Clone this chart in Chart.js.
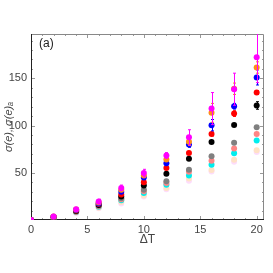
<!DOCTYPE html>
<html>
<head>
<meta charset="utf-8">
<script src="https://cdn.jsdelivr.net/npm/chart.js@4.4.1/dist/chart.umd.min.js"></script>
<style>
  html, body { margin: 0; padding: 0; background: #fff; }
</style>
</head>
<body>
<canvas id="myChart" width="273" height="273"></canvas>
<script>
// x values (Delta T)
const deltaT = [0, 2, 4, 6, 8, 10, 12, 14, 16, 18, 20];

// sigma(e) series
const magenta = [0, 3.8, 11.5, 19.5, 34, 49.7, 68.4, 87.6, 118, 138.5, 172.5];
const orange  = [0, 3.6, 11, 18.5, 32, 47, 64, 83, 113.5, 139, 161.5];
const blue    = [0, 3.5, 10.5, 17.5, 30, 45, 60, 80, 100.4, 120.5, 151];
const red     = [0, 3.3, 10, 17, 27, 40, 55, 71, 91, 112.7, 135];
const black   = [0, 3.1, 9.5, 16, 25, 36.5, 49, 65, 82.5, 100.7, 121.3];
// sigma(e)_a series (lighter)
const gray    = [0, 2.9, 9, 15, 23, 32, 41, 53.3, 67.4, 81.7, 98.2];
const salmon  = [0, 2.8, 8.7, 14.5, 22, 30.5, 39.3, 51, 62.8, 75.8, 91];
const cyan    = [0, 2.7, 8.4, 14, 21, 28.5, 37.3, 47, 58.5, 70.8, 84.2];
const peach   = [0, 2.6, 8, 13, 19, 26, 34, 44, 53, 63.8, 74];
const pink    = [0, 2.5, 7.5, 12.5, 17.5, 25, 32.5, 41.5, 51.5, 61.8, 72];

// error bars (half widths)
const magentaErr = [0, 0.5, 1.5, 2.5, 3, 4, 3, 8, 17, 17, 27];
const orangeErr  = [0, 0, 0.5, 1, 1.5, 2, 2, 4, 10, 6, 6];
const blueErr    = [0, 0, 0.5, 1, 1.5, 2, 1.5, 3, 6, 3, 8];
const redErr     = [0, 0, 0.3, 0.5, 1, 1, 1, 1.5, 2, 3, 2];
const blackErr   = [0, 0, 0.3, 0.5, 1, 1, 1, 1, 1.5, 1.5, 4];

const xTicks = [0, 5, 10, 15, 20];
const yTicks = [50, 100, 150];
const yTitle = 'σ(e), σ(e)ₐ';

function pts(arr) { return deltaT.map((x, i) => ({ x: x, y: arr[i] })); }

function ds(label, arr, color, err) {
  return {
    label: label,
    data: pts(arr),
    errors: err || null,
    backgroundColor: color,
    borderColor: color,
    pointRadius: 3,
    pointBorderWidth: 0,
    showLine: false
  };
}

const errorBars = {
  id: 'errorBars',
  beforeDatasetDraw(chart, args) {
    const d = chart.data.datasets[args.index];
    if (!d.errors) return;
    const xs = chart.scales.x, ys = chart.scales.y, a = chart.chartArea;
    const c = chart.ctx;
    c.save();
    c.beginPath();
    c.rect(a.left, a.top, a.right - a.left, a.bottom - a.top);
    c.clip();
    c.strokeStyle = d.borderColor;
    c.lineWidth = 1;
    d.data.forEach((p, i) => {
      const e = d.errors[i];
      if (!e) return;
      const px = Math.round(xs.getPixelForValue(p.x)) + 0.5;
      const y1 = ys.getPixelForValue(p.y - e);
      const y2 = ys.getPixelForValue(p.y + e);
      c.beginPath();
      c.moveTo(px, y1); c.lineTo(px, y2);
      c.moveTo(px - 1.5, y1); c.lineTo(px + 1.5, y1);
      c.moveTo(px - 1.5, y2); c.lineTo(px + 1.5, y2);
      c.stroke();
    });
    c.restore();
  }
};

const frame = {
  id: 'frame',
  beforeDatasetsDraw(chart) {
    const c = chart.ctx, a = chart.chartArea;
    const xs = chart.scales.x, ys = chart.scales.y;
    c.save();
    c.strokeStyle = '#999';
    c.lineWidth = 1;
    c.beginPath();
    for (let v = 0; v <= 20; v += 1) {
      const px = Math.round(xs.getPixelForValue(v)) + 0.5;
      const len = v % 5 === 0 ? 4 : 2;
      c.moveTo(px, a.bottom); c.lineTo(px, a.bottom - len);
      c.moveTo(px, a.top); c.lineTo(px, a.top + len);
    }
    for (let v = 10; v <= 190; v += 10) {
      const py = Math.round(ys.getPixelForValue(v)) + 0.5;
      const len = v % 50 === 0 ? 4 : 2;
      c.moveTo(a.left, py); c.lineTo(a.left + len, py);
      c.moveTo(a.right, py); c.lineTo(a.right - len, py);
    }
    c.stroke();
    // frame: dark left/bottom, gray top/right
    c.strokeStyle = '#888';
    c.beginPath();
    c.moveTo(a.left, a.top + 0.5); c.lineTo(a.right - 0.5, a.top + 0.5); c.lineTo(a.right - 0.5, a.bottom);
    c.stroke();
    c.strokeStyle = '#222';
    c.beginPath();
    c.moveTo(a.left + 0.5, a.top); c.lineTo(a.left + 0.5, a.bottom - 0.5); c.lineTo(a.right, a.bottom - 0.5);
    c.stroke();
    c.fillStyle = '#222';
    c.font = '12px "Liberation Sans", Arial, sans-serif';
    c.textBaseline = 'middle';
    c.fillText('(a)', a.left + 8, a.top + 10);
    // y axis title
    c.translate(9, (a.top + a.bottom) / 2);
    c.rotate(-Math.PI / 2);
    c.textAlign = 'center';
    c.fillStyle = '#444';
    c.font = 'italic 11px "Liberation Sans", Arial, sans-serif';
    c.fillText(yTitle, 0, 0);
    c.restore();
  }
};

const ctx = document.getElementById('myChart');

new Chart(ctx, {
  type: 'scatter',
  data: {
    datasets: [
      ds('magenta', magenta, '#ff00ff', magentaErr),
      ds('orange', orange, '#ff8c1a', orangeErr),
      ds('blue', blue, '#0000ff', blueErr),
      ds('red', red, '#ff0000', redErr),
      ds('black', black, '#000000', blackErr),
      ds('gray', gray, '#808080'),
      ds('salmon', salmon, '#ff8585'),
      ds('cyan', cyan, '#00eeee'),
      ds('peach', peach, '#ffe2c6'),
      ds('pink', pink, '#fddcfb')
    ]
  },
  options: {
    responsive: false,
    animation: false,
    layout: { padding: { top: 34, right: 9, left: 0, bottom: 0 } },
    plugins: { legend: { display: false }, tooltip: { enabled: false } },
    scales: {
      x: {
        type: 'linear',
        min: 0,
        max: 20.65,
        afterBuildTicks: s => { s.ticks = xTicks.map(v => ({ value: v })); },
        afterFit: s => { s.height = 53; },
        grid: { display: false, drawTicks: false },
        border: { display: false },
        ticks: { color: '#444', padding: 3, maxRotation: 0,
                  font: { family: '"Liberation Sans", Arial, sans-serif', size: 11 } },
        title: { display: true, text: 'ΔT', color: '#444', padding: { top: 0, bottom: 26 },
                 font: { family: '"Liberation Sans", Arial, sans-serif', size: 12 } }
      },
      y: {
        type: 'linear',
        min: 0,
        max: 197,
        afterBuildTicks: s => { s.ticks = yTicks.map(v => ({ value: v })); },
        afterFit: s => { s.width = 31; },
        grid: { display: false, drawTicks: false },
        border: { display: false },
        ticks: { color: '#444', padding: 4,
                 font: { family: '"Liberation Sans", Arial, sans-serif', size: 11 } }
      }
    }
  },
  plugins: [frame, errorBars]
});
</script>
</body>
</html>
